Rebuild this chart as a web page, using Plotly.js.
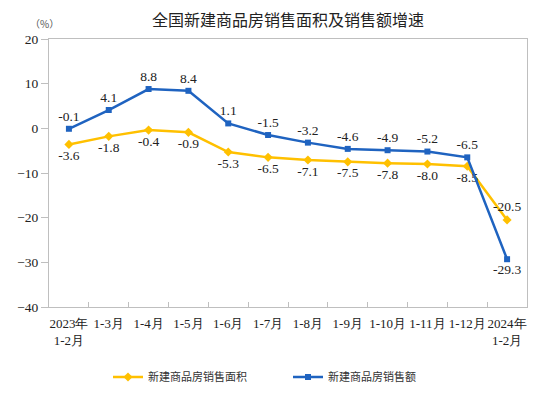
<!DOCTYPE html>
<html>
<head>
<meta charset="utf-8">
<script src="https://cdn.plot.ly/plotly-3.0.1.min.js"></script>
<style>html,body{margin:0;padding:0;background:#fff;}#chart{width:554px;height:394px;}</style>
</head>
<body>
<div id="chart"></div>
<script>
var categories = ["2023年<br>1-2月","1-3月","1-4月","1-5月","1-6月","1-7月","1-8月","1-9月","1-10月","1-11月","1-12月","2024年<br>1-2月"];
var areaName = "新建商品房销售面积";
var amountName = "新建商品房销售额";
var areaValues = [-3.6, -1.8, -0.4, -0.9, -5.3, -6.5, -7.1, -7.5, -7.8, -8.0, -8.5, -20.5];
var amountValues = [-0.1, 4.1, 8.8, 8.4, 1.1, -1.5, -3.2, -4.6, -4.9, -5.2, -6.5, -29.3];

var serif = "Times New Roman";
var cjk = "Noto Sans CJK SC";

var areaPos = areaValues.map(function(v, i){ return i === areaValues.length - 1 ? "top center" : "bottom center"; });
var amountPos = amountValues.map(function(v, i){ return i === amountValues.length - 1 ? "bottom center" : "top center"; });

var traces = [
  {
    x: categories, y: areaValues, name: areaName, type: "scatter", mode: "lines+markers+text",
    line: {color: "#FFC000", width: 2.5},
    marker: {symbol: "diamond", size: 7, color: "#FFC000"},
    text: areaValues.map(function(v){ return v.toFixed(1); }),
    textposition: areaPos,
    textfont: {family: serif, size: 13.5, color: "#222"},
    cliponaxis: false
  },
  {
    x: categories, y: amountValues, name: amountName, type: "scatter", mode: "lines+markers+text",
    line: {color: "#1F63C0", width: 2.5},
    marker: {symbol: "square", size: 6, color: "#1F63C0"},
    text: amountValues.map(function(v){ return v.toFixed(1); }),
    textposition: amountPos,
    textfont: {family: serif, size: 13.5, color: "#222"},
    cliponaxis: false
  }
];

var layout = {
  width: 554, height: 394,
  margin: {l: 49, r: 27, t: 39, b: 87},
  paper_bgcolor: "#fff", plot_bgcolor: "#fff",
  font: {family: serif},
  title: {text: "全国新建商品房销售面积及销售额增速", font: {family: cjk, size: 16, color: "#222"},
          x: 0.52, xanchor: "center", y: 1 - 20/394, yanchor: "middle", yref: "container"},
  showlegend: true,
  legend: {orientation: "h", x: 0.5, xanchor: "center", y: 1 - 377/394, yanchor: "middle", yref: "container",
           font: {family: cjk, size: 11, color: "#333"}, entrywidth: 135, traceorder: "normal"},
  xaxis: {
    type: "category", range: [-0.5, 11.5], showgrid: false, zeroline: false,
    showline: true, linecolor: "#BFBFBF", linewidth: 1, mirror: true,
    ticks: "inside", ticklen: 5, tickcolor: "#BFBFBF", tickson: "boundaries", tickangle: 0,
    tickfont: {family: serif, size: 13, color: "#222"}, ticklabelstandoff: 4
  },
  yaxis: {
    range: [-40, 20], dtick: 10, tick0: 0, showgrid: false, zeroline: false,
    showline: true, linecolor: "#BFBFBF", linewidth: 1, mirror: true,
    ticks: "outside", ticklen: 7, tickcolor: "#BFBFBF",
    tickfont: {family: serif, size: 13.5, color: "#222"}
  },
  annotations: [
    {text: "（%）", xref: "paper", yref: "paper", x: -0.01, y: (307 - 24) / 268, xanchor: "center", yanchor: "middle",
     showarrow: false, font: {family: cjk, size: 10, color: "#555"}}
  ]
};

Plotly.newPlot("chart", traces, layout, {displayModeBar: false, staticPlot: true});
</script>
</body>
</html>
